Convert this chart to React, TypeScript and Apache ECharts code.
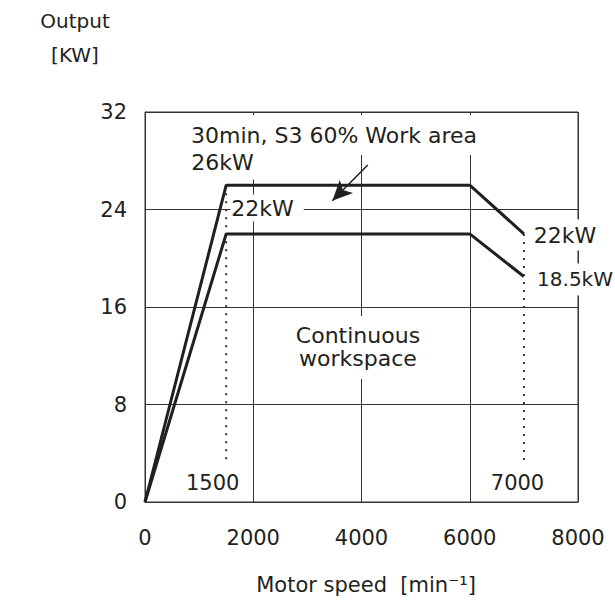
import React, { useEffect, useRef } from "react";
import * as echarts from "echarts";

// Motor output curves (speed in min^-1, output in kW)
const speed = [0, 1500, 6000, 7000];
const s3Output = [0, 26, 26, 22];
const continuousOutput = [0, 22, 22, 18.5];

// Dotted guide lines at base / max speed
const guideSpeeds = [1500, 7000];
const guideTops = [26, 22];
const guideBottom = 3.3;

// Arrow pointing to the S3 area
const arrowFrom = [4115, 27.65];
const arrowTo = [3461, 24.72];

// Axis ticks
const speedTicks = [0, 2000, 4000, 6000, 8000];
const outputTicks = [0, 8, 16, 24, 32];

// Annotations (text, anchored in data coordinates)
const noteTexts = [
  "30min, S3 60% Work area",
  "26kW",
  "22kW",
  "22kW",
  "18.5kW",
  "Continuous\nworkspace",
  "1500",
  "7000",
];
const noteSpeeds = [3492, 1441, 2254, 7760, 7945, 3935, 1251, 6882];
const noteOutputs = [30.11, 27.82, 24.12, 21.9, 18.26, 12.68, 1.52, 1.52];

// Annotation styling (padding of the white boxes that hide grid lines)
const notePaddings = [
  [8, 2, 9, 2],
  [4, 3, 6, 2],
  [1, 10, 3, 1],
  [3, 2, 5, 2],
  [1, 2, 8, 2],
  [6, 4, 11, 4],
  [0, 0, 0, 0],
  [0, 0, 0, 0],
];
const noteFontSizes = [22, 22, 22, 22, 20, 22, 21, 21];

const FONT = "DejaVu Sans";
const INK = "#231f20";
const GRID = "#333333";

export default function App() {
  const ref = useRef<HTMLDivElement>(null);

  useEffect(() => {
    if (!ref.current) return;
    const chart = echarts.init(ref.current, undefined, { renderer: "svg" });

    const lineSeries = (data: number[]) => ({
      type: "line",
      data: speed.map((s, i) => [s, data[i]]),
      symbol: "none",
      lineStyle: { color: INK, width: 3 },
      z: 3,
      silent: true,
    });

    const option: any = {
      animation: false,
      backgroundColor: "#ffffff",
      textStyle: { fontFamily: FONT, color: INK },
      grid: {
        left: 145,
        right: 37,
        top: 112,
        bottom: 101,
        show: true,
        borderColor: GRID,
        borderWidth: 1,
        backgroundColor: "transparent",
      },
      xAxis: {
        type: "value",
        min: speedTicks[0],
        max: speedTicks[speedTicks.length - 1],
        interval: speedTicks[1] - speedTicks[0],
        axisTick: { show: false },
        axisLine: { show: true, lineStyle: { color: GRID, width: 1 } },
        splitLine: { show: true, lineStyle: { color: GRID, width: 1 } },
        axisLabel: {
          fontSize: 21,
          color: INK,
          margin: 25,
          fontFamily: FONT,
          formatter: (v: number) => String(v),
        },
        name: "Motor speed  [min\u207B\u00B9]",
        nameLocation: "middle",
        nameGap: 72,
        nameTextStyle: {
          fontSize: 21,
          color: INK,
          fontFamily: FONT,
          padding: [0, 0, 0, 9],
        },
      },
      yAxis: {
        type: "value",
        min: outputTicks[0],
        max: outputTicks[outputTicks.length - 1],
        interval: outputTicks[1] - outputTicks[0],
        axisTick: { show: false },
        axisLine: { show: true, lineStyle: { color: GRID, width: 1 } },
        splitLine: { show: true, lineStyle: { color: GRID, width: 1 } },
        axisLabel: {
          fontSize: 21,
          color: INK,
          margin: 18,
          fontFamily: FONT,
          formatter: (v: number) => String(v),
        },
      },
      graphic: [
        {
          type: "text",
          x: 75,
          y: 21,
          style: {
            text: "Output",
            fontSize: 20,
            fontFamily: FONT,
            fill: INK,
            align: "center",
            verticalAlign: "middle",
          },
        },
        {
          type: "text",
          x: 75,
          y: 55,
          style: {
            text: "[KW]",
            fontSize: 20,
            fontFamily: FONT,
            fill: INK,
            align: "center",
            verticalAlign: "middle",
          },
        },
      ],
      series: [
        {
          ...lineSeries(s3Output),
          markLine: {
            silent: true,
            animation: false,
            label: { show: false },
            lineStyle: { color: INK, width: 1.5, type: "solid" },
            data: [
              [
                { coord: arrowFrom, symbol: "none" },
                { coord: arrowTo, symbol: "arrow", symbolSize: [14, 20] },
              ],
            ],
          },
        },
        lineSeries(continuousOutput),
        ...guideSpeeds.map((s, i) => ({
          type: "line",
          data: [
            [s, guideTops[i]],
            [s, guideBottom],
          ],
          symbol: "none",
          lineStyle: { color: INK, width: 1.8, type: [2, 6] },
          z: 2,
          silent: true,
        })),
        {
          type: "scatter",
          symbolSize: 0,
          itemStyle: { color: INK, opacity: 1 },
          z: 6,
          silent: true,
          data: noteTexts.map((t, i) => ({
            value: [noteSpeeds[i], noteOutputs[i]],
            label: {
              show: true,
              position: "inside",
              formatter: t,
              fontSize: noteFontSizes[i],
              lineHeight: 23,
              fontFamily: FONT,
              color: INK,
              opacity: 1,
              textBorderWidth: 0,
              backgroundColor: "#ffffff",
              padding: notePaddings[i],
              align: "center",
              verticalAlign: "middle",
            },
          })),
        },
      ],
    };

    chart.setOption(option);
    return () => chart.dispose();
  }, []);

  return (
    <div
      ref={ref}
      style={{ position: "absolute", left: 0, top: 0, width: 615, height: 603 }}
    />
  );
}
